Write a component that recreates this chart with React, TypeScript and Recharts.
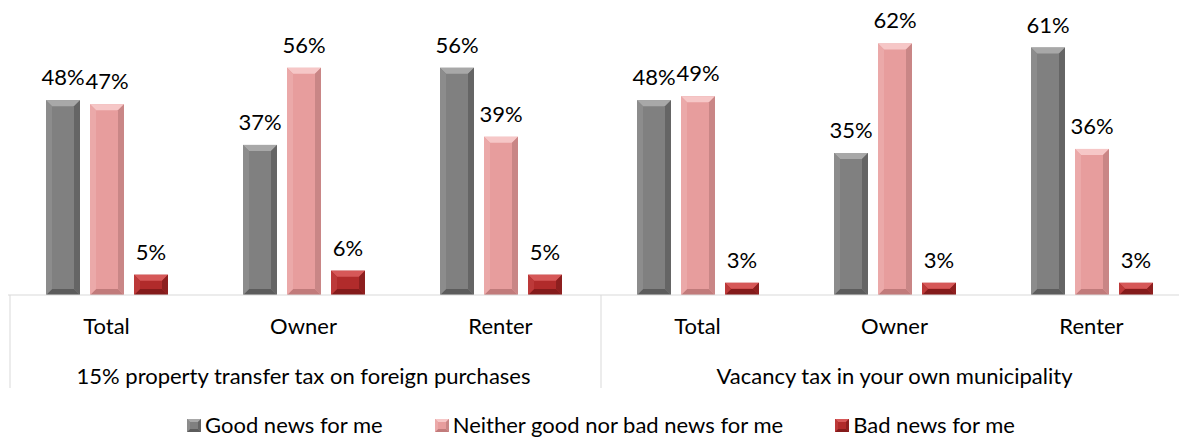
import React from "react"
import { BarChart, Bar, XAxis, YAxis, LabelList, Legend } from "recharts"

const categories = ["Total", "Owner", "Renter", "Total", "Owner", "Renter"]
const groups = [
  "15% property transfer tax on foreign purchases",
  "15% property transfer tax on foreign purchases",
  "15% property transfer tax on foreign purchases",
  "Vacancy tax in your own municipality",
  "Vacancy tax in your own municipality",
  "Vacancy tax in your own municipality",
]
const good = [48, 37, 56, 48, 35, 61]
const neither = [47, 56, 39, 49, 62, 36]
const bad = [5, 6, 5, 3, 3, 3]

const seriesNames = ["Good news for me", "Neither good nor bad news for me", "Bad news for me"]

const data = categories.map((name, i) => ({
  name,
  group: groups[i],
  good: good[i],
  neither: neither[i],
  bad: bad[i],
}))

const FONT = "Lato, 'Open Sans', sans-serif"
const FS = 22
const GRID = "#d9d9d9"

type Tone = { face: string; top: string; left: string; right: string; bottom: string }

const tones: Tone[] = [
  { face: "#808080", top: "#a8a8a8", left: "#8c8c8c", right: "#656565", bottom: "#5c5c5c" },
  { face: "#e79d9d", top: "#f6c7c7", left: "#eba9a9", right: "#c98686", bottom: "#c17b7b" },
  { face: "#b12b2b", top: "#d65858", left: "#bc3939", right: "#8d1f1f", bottom: "#841b1b" },
]

function bevel(x: number, y: number, w: number, h: number, t: Tone, size: number) {
  const b = Math.max(0, Math.min(size, h / 2, w / 2))
  const p = (pts: number[][]) => pts.map((q) => q.join(",")).join(" ")
  return (
    <g>
      <rect x={x} y={y} width={w} height={h} fill={t.face} />
      <polygon points={p([[x, y], [x + w, y], [x + w - b, y + b], [x + b, y + b]])} fill={t.top} />
      <polygon points={p([[x, y + h], [x + w, y + h], [x + w - b, y + h - b], [x + b, y + h - b]])} fill={t.bottom} />
      <polygon points={p([[x, y], [x + b, y + b], [x + b, y + h - b], [x, y + h]])} fill={t.left} />
      <polygon points={p([[x + w, y], [x + w - b, y + b], [x + w - b, y + h - b], [x + w, y + h]])} fill={t.right} />
    </g>
  )
}

const makeShape = (t: Tone) => (props: any) => {
  const { x, y, width, height } = props
  if (!height || height <= 0) return <g />
  return bevel(x, y, width, height, t, 6)
}

const CategoryTick = (props: any) => {
  const { x, y, payload, index } = props
  const half = payload.offset ?? 0
  const showGroup = index % 3 === 1
  const startsGroup = index % 3 === 0
  return (
    <g>
      {startsGroup && (
        <line x1={x - half + 2} y1={y - 8} x2={x - half + 2} y2={y + 85} stroke={GRID} strokeWidth={1} />
      )}
      <text x={x} y={y + 31} textAnchor="middle" fontFamily={FONT} fontSize={FS} fill="#000">
        {payload.value}
      </text>
      {showGroup && (
        <text x={x} y={y + 81} textAnchor="middle" fontFamily={FONT} fontSize={FS} fill="#000">
          {groups[index]}
        </text>
      )}
    </g>
  )
}

const LegendContent = () => (
  <div
    style={{
      display: "flex",
      justifyContent: "center",
      alignItems: "center",
      fontFamily: FONT,
      fontSize: FS,
      lineHeight: "26px",
      color: "#000",
      paddingTop: 17,
      paddingLeft: 4,
    }}
  >
    {seriesNames.map((n, i) => (
      <div key={n} style={{ display: "flex", alignItems: "center", marginRight: i < 2 ? 52 : 0 }}>
        <svg width={14} height={13} style={{ marginRight: 4 }}>
          {bevel(0, 0, 14, 13, tones[i], 3)}
        </svg>
        <span>{n}</span>
      </div>
    ))}
  </div>
)

const labelStyle = { fontFamily: FONT, fontSize: FS, fill: "#000" }

export default function App() {
  return (
    <div style={{ position: "absolute", left: 0, top: 0, width: 1179, height: 438, overflow: "hidden", background: "#fff" }}>
      <BarChart
        width={1195}
        height={438}
        data={data}
        margin={{ top: 11, right: 5, left: 8, bottom: 0 }}
        barGap={10}
        barSize={34}
      >
        <XAxis
          dataKey="name"
          axisLine={{ stroke: GRID }}
          tickLine={false}
          height={100}
          interval={0}
          tick={<CategoryTick />}
        />
        <YAxis hide domain={[0, 70]} />
        <Legend verticalAlign="bottom" height={43} content={<LegendContent />} />
        <Bar dataKey="good" name={seriesNames[0]} shape={makeShape(tones[0])} isAnimationActive={false}>
          <LabelList dataKey="good" position="top" offset={15} formatter={(v: any) => `${v}%`} style={labelStyle} />
        </Bar>
        <Bar dataKey="neither" name={seriesNames[1]} shape={makeShape(tones[1])} isAnimationActive={false}>
          <LabelList dataKey="neither" position="top" offset={15} formatter={(v: any) => `${v}%`} style={labelStyle} />
        </Bar>
        <Bar dataKey="bad" name={seriesNames[2]} shape={makeShape(tones[2])} isAnimationActive={false}>
          <LabelList dataKey="bad" position="top" offset={15} formatter={(v: any) => `${v}%`} style={labelStyle} />
        </Bar>
      </BarChart>
    </div>
  )
}
